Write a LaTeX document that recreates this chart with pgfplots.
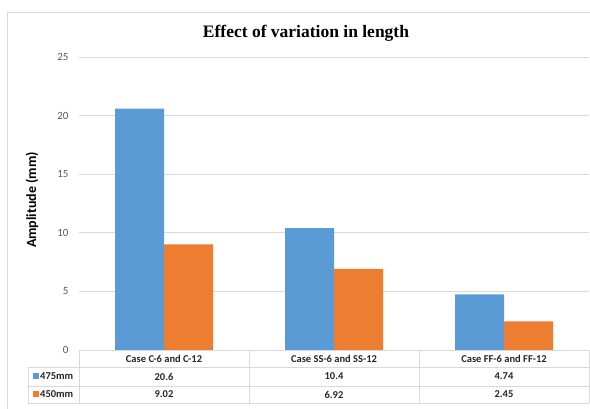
\documentclass[border=0pt]{standalone}
\usepackage{pgfplots}
\pgfplotsset{compat=1.18}
\usepackage{fontspec}
\setmainfont{Carlito}
\newfontfamily\titlefont{Liberation Serif}
\definecolor{cblue}{HTML}{5B9BD5}
\definecolor{corange}{HTML}{ED7D31}
\definecolor{gridc}{HTML}{D9D9D9}
\definecolor{tickc}{HTML}{595959}
\begin{document}
\begin{tikzpicture}[x=1pt,y=1pt]
\path[use as bounding box] (0,0) rectangle (590,409);
\draw[gridc, line width=0.8pt] (7.5,0) -- (7.5,397) -- (590,397);
\begin{axis}[
  at={(79pt,59pt)}, anchor=south west,
  scale only axis, width=510pt, height=293pt,
  ymin=0, ymax=25, xmin=-0.5, xmax=2.5,
  ybar=0pt, bar width=49pt,
  axis line style={draw=none},
  xtick=\empty,
  ytick={0,5,10,15,20,25},
  ymajorgrids, grid style={gridc, line width=0.8pt},
  major tick length=0pt,
  /pgf/number format/assume math mode=true,
  yticklabel={\pgfmathprintnumber[assume math mode=true]{\tick}},
  yticklabel style={font=\fontsize{11}{12}\selectfont, text=tickc, xshift=-7pt},
  clip=false,
]
\addplot[fill=cblue, draw=none] coordinates {(0,20.6) (1,10.4) (2,4.74)};
\addplot[fill=corange, draw=none] coordinates {(0,9.02) (1,6.92) (2,2.45)};
\end{axis}
% title and y label
\node[font=\titlefont\bfseries\fontsize{17.5}{20}\selectfont] at (306,376) {Effect of variation in length};
\node[font=\bfseries\fontsize{14}{16}\selectfont, rotate=90] at (32,209) {Amplitude (mm)};
% data table
\begin{scope}[gridc, line width=0.8pt]
\draw (79,59) -- (589,59);
\draw (28,42) -- (589,42);
\draw (28,23) -- (589,23);
\draw (28,6) -- (589,6);
\draw (28,6) -- (28,42);
\draw (79,6) -- (79,59);
\draw (249,6) -- (249,59);
\draw (419,6) -- (419,59);
\draw (589,6) -- (589,59);
\end{scope}
\begin{scope}[every node/.style={font=\bfseries\fontsize{10.5}{12}\selectfont, text=black!85}]
\node at (164,50.5) {Case C-6 and C-12};
\node at (334,50.5) {Case SS-6 and SS-12};
\node at (504,50.5) {Case FF-6 and FF-12};
\node at (164,32.5) {20.6};
\node at (334,32.5) {10.4};
\node at (504,32.5) {4.74};
\node at (164,14.5) {9.02};
\node at (334,14.5) {6.92};
\node at (504,14.5) {2.45};
\fill[cblue] (33,29.5) rectangle (39,35.5);
\fill[corange] (33,11.5) rectangle (39,17.5);
\node[anchor=west, inner sep=0pt] at (40,32.5) {475mm};
\node[anchor=west, inner sep=0pt] at (40,14.5) {450mm};
\end{scope}
\end{tikzpicture}
\end{document}
